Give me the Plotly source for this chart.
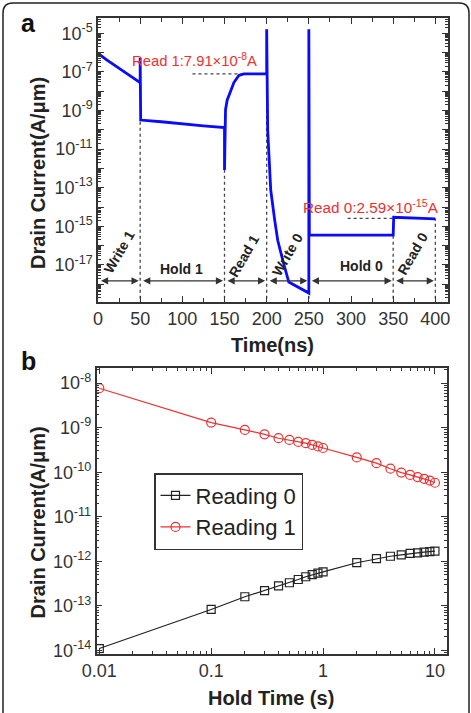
import math
import plotly.graph_objects as go

# ---------------- data ----------------
# panel a: transient drain current
time_ns = [0, 2.4, 10.3, 20.2, 30.1, 40.1, 50, 50, 50.6, 75, 100, 125, 150, 150,
           151.2, 153.2, 157.1, 161.1, 167, 172.9, 200, 200, 201.2, 204.8, 209.5,
           213.1, 219, 226.2, 250, 250, 250.6, 300, 350, 350.6, 375, 400]
current_a = [1.0e-6, 7.6e-7, 4.2e-7, 2.1e-7, 1.1e-7, 5.6e-8, 2.8e-8, 5.2e-7, 3.2e-10,
             2.6e-10, 2.0e-10, 1.6e-10, 1.3e-10, 8.3e-13,
             1.1e-9, 3.5e-9, 9.5e-9, 2.8e-8, 6.6e-8, 7.91e-8, 7.91e-8, 1.6e-5, 9.8e-11,
             7.6e-14, 2.1e-15, 1.9e-16, 1.8e-17, 1.3e-18, 3.5e-19, 1.6e-5, 3.5e-16,
             3.5e-16, 3.5e-16, 2.95e-15, 2.7e-15, 2.45e-15]
phase_bounds = [0, 50, 150, 200, 250, 350, 400]
phase_labels = ["Write 1", "Hold 1", "Read 1", "Write 0", "Hold 0", "Read 0"]
read1_value = 7.91e-8
read0_value = 2.59e-15
read_guide_start = [112, 296]
read_guide_end = [172.9, 350]
arrow_level = 1.5e-18

# panel b: retention
hold_time_s = [0.01, 0.1, 0.2, 0.3, 0.4, 0.5, 0.6, 0.7, 0.8, 0.9, 1, 2, 3, 4, 5, 6, 7, 8, 9, 10]
reading0 = [1.1e-14, 8.3e-14, 1.6e-13, 2.2e-13, 2.8e-13, 3.3e-13, 3.9e-13, 4.5e-13, 5.0e-13,
            5.4e-13, 5.8e-13, 9.3e-13, 1.15e-12, 1.3e-12, 1.4e-12, 1.5e-12, 1.55e-12,
            1.6e-12, 1.65e-12, 1.7e-12]
reading1 = [7.7e-9, 1.3e-9, 8.9e-10, 7.1e-10, 5.8e-10, 5.3e-10, 4.8e-10, 4.5e-10, 4.1e-10,
            3.8e-10, 3.5e-10, 2.15e-10, 1.6e-10, 1.2e-10, 9.8e-11, 8.7e-11, 7.8e-11,
            7.1e-11, 6.5e-11, 5.8e-11]

# ---------------- style ----------------
W, H = 471, 713
FONT = "Liberation Sans, Arial, sans-serif"
AX = "#333333"
BLUE = "#0a0aff"
RED = "#ee3030"
GUIDE = "#444444"

def px(x):
    return x / W

def py(y):
    return 1 - y / H

fig = go.Figure()

# vertical dotted guides (from bottom of axis up to the curve)
for b in phase_bounds[1:]:
    top = min(c for t, c in zip(time_ns, current_a) if abs(t - b) <= 1)
    fig.add_trace(go.Scatter(x=[b, b], y=[1e-20, top], mode="lines",
                             line=dict(color=GUIDE, width=1.3, dash="dot"),
                             showlegend=False, hoverinfo="skip", xaxis="x", yaxis="y"))
# horizontal dotted guides for read values
for s, e, v in zip(read_guide_start, read_guide_end, [read1_value, read0_value]):
    fig.add_trace(go.Scatter(x=[s, e], y=[v, v], mode="lines",
                             line=dict(color=GUIDE, width=1.3, dash="dot"),
                             showlegend=False, hoverinfo="skip", xaxis="x", yaxis="y"))

fig.add_trace(go.Scatter(x=time_ns, y=current_a, mode="lines",
                         line=dict(color=BLUE, width=2.8),
                         showlegend=False, xaxis="x", yaxis="y"))

# panel b traces
fig.add_trace(go.Scatter(x=hold_time_s, y=reading0, mode="lines+markers", name="Reading 0",
                         line=dict(color="#222222", width=1.2),
                         marker=dict(symbol="square-open", size=8, color="#222222",
                                     line=dict(width=1.2)),
                         xaxis="x2", yaxis="y2"))
fig.add_trace(go.Scatter(x=hold_time_s, y=reading1, mode="lines+markers", name="Reading 1",
                         line=dict(color=RED, width=1.2),
                         marker=dict(symbol="circle-open", size=9, color=RED,
                                     line=dict(width=1.2)),
                         xaxis="x2", yaxis="y2"))

tickfont = dict(family=FONT, size=18, color=AX)
common = dict(showline=True, linecolor=AX, linewidth=1.5, mirror="ticks",
              ticks="inside", ticklen=6, tickwidth=1.2, tickcolor=AX,
              showgrid=False, zeroline=False, tickfont=tickfont, automargin=False)

def log_minor(lo, hi):
    return [m * 10.0 ** e for e in range(lo, hi) for m in range(2, 10)]

top_exps = list(range(-19, -3))
bot_exps = list(range(-15, -6))

fig.update_layout(
    width=W, height=H,
    margin=dict(l=0, r=0, t=0, b=0, pad=0, autoexpand=False),
    paper_bgcolor="white", plot_bgcolor="white",
    font=dict(family=FONT, color=AX),
    xaxis=dict(domain=[px(98), px(448)], range=[0, 415], anchor="y",
               tickmode="array", tickvals=[0, 50, 100, 150, 200, 250, 300, 350, 400],
               minor=dict(dtick=25, tick0=0, ticks="inside", ticklen=4, tickcolor=AX,
                          tickwidth=1.2),
               **common),
    yaxis=dict(domain=[py(302), py(18)], type="log", range=[-18.92, -4.21], anchor="x",
               tickmode="array", tickvals=[10.0 ** e for e in top_exps],
               ticktext=[("10<sup>%d</sup>" % e) if e % 2 else "" for e in top_exps],
               minor=dict(tickmode="array", tickvals=log_minor(-19, -3), ticks="inside",
                          ticklen=3, tickcolor=AX, tickwidth=1),
               **common),
    xaxis2=dict(domain=[px(96.5), px(446.7)], type="log", range=[-2.025, 1.105], anchor="y2",
                tickmode="array", tickvals=[0.01, 0.1, 1, 10],
                ticktext=["0.01", "0.1", "1", "10"],
                minor=dict(tickmode="array", tickvals=log_minor(-2, 1), ticks="inside",
                           ticklen=3, tickcolor=AX, tickwidth=1),
                **common),
    yaxis2=dict(domain=[py(653.5), py(368)], type="log", range=[-14.07, -7.66], anchor="x2",
                tickmode="array", tickvals=[10.0 ** e for e in bot_exps],
                ticktext=["10<sup>%d</sup>" % e for e in bot_exps],
                minor=dict(tickmode="array", tickvals=log_minor(-15, -7), ticks="inside",
                           ticklen=3, tickcolor=AX, tickwidth=1),
                **common),
    legend=dict(x=px(154), y=py(473), xanchor="left", yanchor="top",
                bordercolor=AX, borderwidth=1.5, bgcolor="white",
                font=dict(family=FONT, size=22, color="#222222"),
                tracegroupgap=0, itemwidth=30,
                entrywidth=129, entrywidthmode="pixels"),
)

ann = []
# phase arrows
for b0, b1 in zip(phase_bounds[:-1], phase_bounds[1:]):
    ann.append(dict(x=b1, y=math.log10(arrow_level), ax=b0, ay=math.log10(arrow_level),
                    xref="x", yref="y", axref="x", ayref="y", text="", showarrow=True,
                    arrowhead=2, startarrowhead=2, arrowside="end+start", arrowsize=1.3,
                    arrowwidth=1.1, arrowcolor=AX, standoff=1.5, startstandoff=1.5))
# phase labels
label_dx = [0, -1, -2, 0, 12, -2]
label_y = [-16.33, -17.21, -16.54, -16.44, -17.06, -16.44]
label_angle = [-60, 0, -60, -60, 0, -60]
for i, lab in enumerate(phase_labels):
    mid = (phase_bounds[i] + phase_bounds[i + 1]) / 2 + label_dx[i]
    ann.append(dict(x=mid, y=label_y[i], xref="x", yref="y", text=lab, showarrow=False,
                    textangle=label_angle[i], xanchor="center", yanchor="middle",
                    font=dict(family=FONT, size=14, color="#222222", weight="bold")))
# read value labels
ann.append(dict(x=37.9, y=-6.41, xref="x", yref="y", xanchor="left", yanchor="middle",
                text="Read 1:%.2f×10<sup>-8</sup>A" % (read1_value / 1e-8), showarrow=False,
                font=dict(family=FONT, size=14.8, color=RED)))
ann.append(dict(x=240.5, y=-13.98, xref="x", yref="y", xanchor="left", yanchor="middle",
                text="Read 0:%.2f×10<sup>-15</sup>A" % (read0_value / 1e-15), showarrow=False,
                font=dict(family=FONT, size=15.3, color=RED)))
# axis titles
tfont = dict(family=FONT, size=20, color="#222222", weight="bold")
def paper_text(x, y, text, font, angle=0):
    return dict(x=px(x), y=py(y), xref="paper", yref="paper", text=text, showarrow=False,
                xanchor="center", yanchor="middle", textangle=angle, font=font)

ann.append(paper_text(37.5, 173.5, "Drain Current(A/μm)", tfont, -90))
ann.append(paper_text(37.5, 523, "Drain Current(A/μm)", tfont, -90))
ann.append(paper_text(272, 345, "Time(ns)", tfont))
ann.append(paper_text(271, 698, "Hold Time (s)", tfont))
# panel letters
pfont = dict(family=FONT, size=25, color="#111111", weight="bold")
ann.append(paper_text(28, 23, "a", pfont))
ann.append(paper_text(28.5, 361, "b", pfont))
fig.update_layout(annotations=ann)

# rounded outer frame
x0, x1, yt, yb = px(3), px(469), py(3), py(760)
rx, ry = 10 / W, 10 / H
path = (f"M {x0},{yb} L {x0},{yt - ry} Q {x0},{yt} {x0 + rx},{yt} "
        f"L {x1 - rx},{yt} Q {x1},{yt} {x1},{yt - ry} L {x1},{yb}")
fig.add_shape(type="path", path=path, xref="paper", yref="paper",
              line=dict(color="#222222", width=1.5))

fig.write_html("out.html")
